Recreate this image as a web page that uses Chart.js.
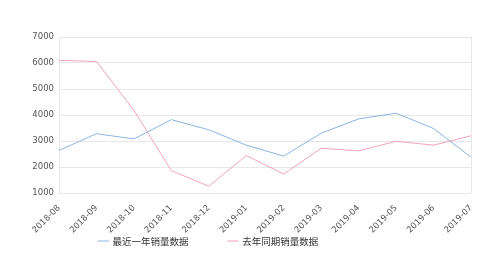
<!DOCTYPE html>
<html lang="zh">
  <head>
    <meta charset="UTF-8" />
    <title>销量数据</title>
  </head>
  <style>
    html,
    body {
      margin: 0;
      padding: 0;
      background: #fff;
    }
    #wrap {
      width: 500px;
      height: 257px;
    }
  </style>
  <body>
    <div id="wrap"><canvas id="chart_id"></canvas></div>
    <script src="https://cdn.jsdelivr.net/npm/chart.js@4.4.0/dist/chart.umd.min.js"></script>
    <script>
      // months on the x axis
      const months = [
        "2018-08", "2018-09", "2018-10", "2018-11", "2018-12", "2019-01",
        "2019-02", "2019-03", "2019-04", "2019-05", "2019-06", "2019-07",
      ];
      // 最近一年销量数据
      const recentYear = [2640, 3280, 3080, 3820, 3430, 2840, 2420, 3300, 3850, 4070, 3480, 2380];
      // 去年同期销量数据
      const lastYear = [6100, 6060, 4180, 1860, 1260, 2440, 1730, 2720, 2620, 2990, 2840, 3200];
      const yTicks = [1000, 2000, 3000, 4000, 5000, 6000, 7000];

      const gridColor = "#e8e8e8";
      const legendPad = 40;
      const legendFont = 9.5;
      const legendShift = -29;
      const legendTextY = 241;

      // move the legend row to where the reference has it
      const legendMover = {
        id: "legendMover",
        afterLayout(chart) {
          const lg = chart.legend;
          lg.left += legendShift;
          lg.right += legendShift;
          lg.top = legendTextY - legendFont / 2 - legendPad;
          lg.bottom = 257;
        },
      };

      let ctx = document.getElementById("chart_id").getContext("2d");

      let chart = new Chart(ctx, {
        type: "line",
        data: {
          labels: months,
          datasets: [
            {
              label: "最近一年销量数据",
              data: recentYear,
              borderColor: "#8db4e2",
              backgroundColor: "#8db4e2",
              borderWidth: 1,
              pointRadius: 0,
              tension: 0,
            },
            {
              label: "去年同期销量数据",
              data: lastYear,
              borderColor: "#f2a5b8",
              backgroundColor: "#f2a5b8",
              borderWidth: 1,
              pointRadius: 0,
              tension: 0,
            },
          ],
        },
        plugins: [legendMover],
        options: {
          responsive: true,
          maintainAspectRatio: false,
          animation: false,
          layout: { padding: { top: 37, right: 29, left: 4, bottom: 0 } },
          plugins: {
            tooltip: { enabled: false },
            legend: {
              position: "bottom",
              maxHeight: 24,
              labels: {
                usePointStyle: true,
                pointStyle: "line",
                boxWidth: 9,
                boxHeight: 8,
                padding: legendPad,
                color: "#333",
                font: { size: legendFont, family: "'Noto Sans CJK SC', sans-serif" },
              },
            },
          },
          scales: {
            x: {
              offset: false,
              afterFit: (scale) => {
                scale.height = 257 - 193 - 24;
              },
              grid: {
                drawTicks: false,
                color: (c) => (c.index === 0 || c.index === months.length - 1 ? gridColor : "transparent"),
              },
              border: { display: false },
              ticks: {
                autoSkip: false,
                minRotation: 45,
                maxRotation: 45,
                padding: 10,
                color: "#555",
                font: { size: 8.5, family: "'DejaVu Sans', sans-serif" },
              },
            },
            y: {
              min: 1000,
              max: 7000,
              afterBuildTicks: (axis) => {
                axis.ticks = yTicks.map((v) => ({ value: v }));
              },
              afterFit: (scale) => {
                scale.width = 55;
              },
              grid: { drawTicks: false, color: gridColor },
              border: { display: false },
              ticks: {
                padding: 5,
                color: "#555",
                font: { size: 8.5, family: "'DejaVu Sans', sans-serif" },
                callback: (v) => String(v),
              },
            },
          },
        },
      });
    </script>
  </body>
</html>
